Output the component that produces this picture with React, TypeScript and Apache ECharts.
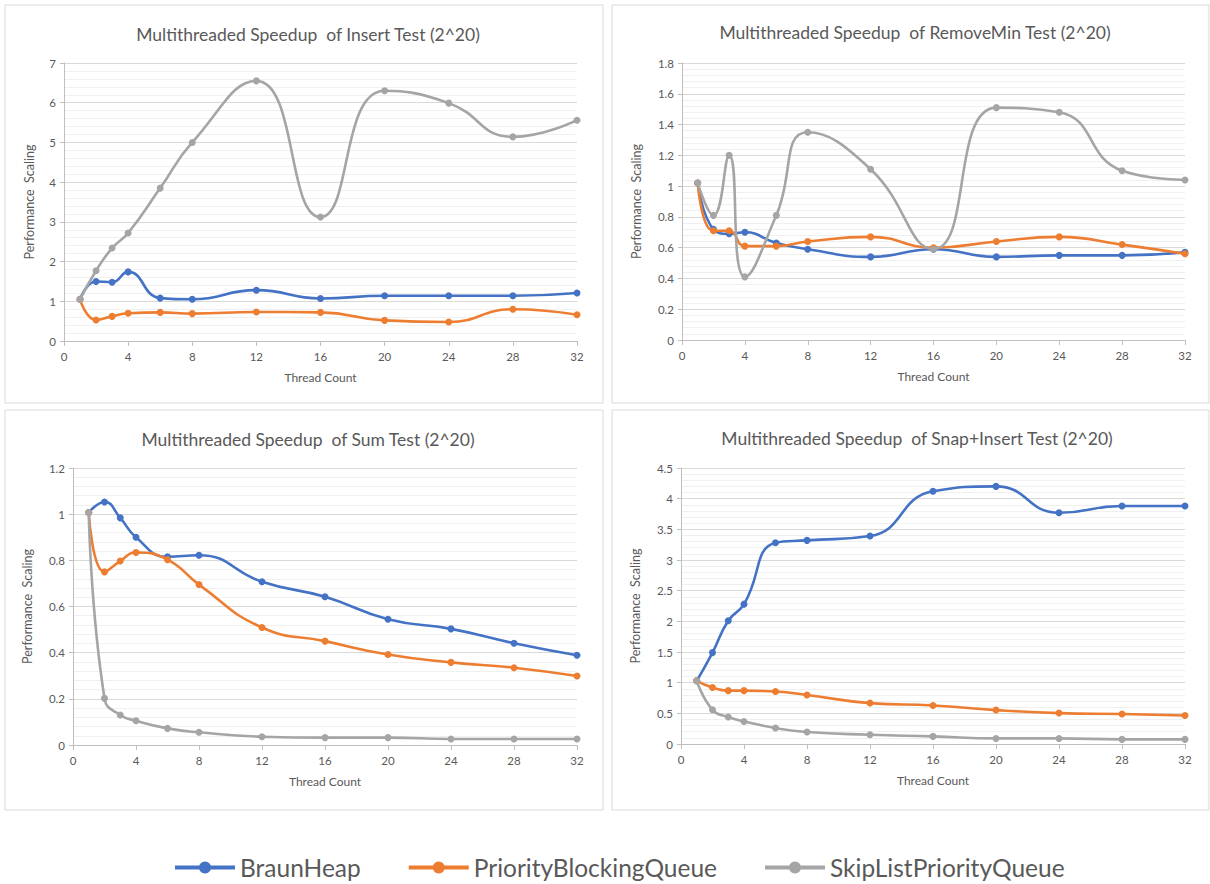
import React, { useEffect, useRef } from "react";
import * as echarts from "echarts";

const threads = [1, 2, 3, 4, 6, 8, 12, 16, 20, 24, 28, 32];
const seriesNames = ["BraunHeap", "PriorityBlockingQueue", "SkipListPriorityQueue"];
const colors = ["#4472C4", "#ED7D31", "#A5A5A5"];

const insertBraun = [1.05, 1.5, 1.48, 1.74, 1.08, 1.05, 1.28, 1.07, 1.14, 1.14, 1.14, 1.21];
const insertPBQ = [1.05, 0.53, 0.62, 0.7, 0.72, 0.69, 0.73, 0.72, 0.52, 0.48, 0.8, 0.66];
const insertSkip = [1.05, 1.77, 2.34, 2.72, 3.85, 5.0, 6.55, 3.12, 6.3, 5.99, 5.14, 5.56];

const removeBraun = [1.02, 0.72, 0.69, 0.7, 0.63, 0.59, 0.54, 0.59, 0.54, 0.55, 0.55, 0.57];
const removePBQ = [1.02, 0.71, 0.71, 0.61, 0.61, 0.64, 0.67, 0.6, 0.64, 0.67, 0.62, 0.56];
const removeSkip = [1.02, 0.81, 1.2, 0.41, 0.81, 1.35, 1.11, 0.59, 1.51, 1.48, 1.1, 1.04];

const sumBraun = [1.007, 1.053, 0.984, 0.9, 0.815, 0.822, 0.707, 0.642, 0.545, 0.503, 0.441, 0.389];
const sumPBQ = [1.007, 0.75, 0.797, 0.834, 0.803, 0.695, 0.509, 0.45, 0.392, 0.358, 0.335, 0.299];
const sumSkip = [1.007, 0.202, 0.13, 0.105, 0.072, 0.055, 0.036, 0.032, 0.032, 0.026, 0.026, 0.026];

const snapBraun = [1.03, 1.49, 2.01, 2.28, 3.28, 3.32, 3.39, 4.12, 4.2, 3.77, 3.88, 3.88];
const snapPBQ = [1.03, 0.92, 0.87, 0.87, 0.855, 0.8, 0.667, 0.628, 0.553, 0.504, 0.488, 0.465];
const snapSkip = [1.03, 0.558, 0.44, 0.368, 0.26, 0.195, 0.15, 0.124, 0.091, 0.091, 0.075, 0.075];

const panelTitles = [
  "Multithreaded Speedup  of Insert Test (2^20)",
  "Multithreaded Speedup  of RemoveMin Test (2^20)",
  "Multithreaded Speedup  of Sum Test (2^20)",
  "Multithreaded Speedup  of Snap+Insert Test (2^20)",
];
const yMax = [7, 1.8, 1.2, 4.5];
const yInterval = [1, 0.2, 0.2, 0.5];
const panelData = [
  [insertBraun, insertPBQ, insertSkip],
  [removeBraun, removePBQ, removeSkip],
  [sumBraun, sumPBQ, sumSkip],
  [snapBraun, snapPBQ, snapSkip],
];

const FONT = "Lato, 'Open Sans', sans-serif";
const TEXT = "#595959";

// layout
const grids = [
  { left: 64, top: 63, width: 513, height: 278 },
  { left: 682, top: 63, width: 503, height: 277 },
  { left: 73, top: 468, width: 504, height: 277 },
  { left: 681, top: 468, width: 504, height: 276 },
];
const yNameGap = [28, 39, 39, 39];
const titlePos = [
  { x: 303, y: 20 },
  { x: 910, y: 18 },
  { x: 303, y: 425 },
  { x: 912, y: 424 },
];
const frames = [
  { x: 5, y: 5, w: 598, h: 398 },
  { x: 612, y: 5, w: 597, h: 398 },
  { x: 5, y: 410, w: 598, h: 400 },
  { x: 612, y: 410, w: 597, h: 400 },
];

export default function App() {
  const ref = useRef<HTMLDivElement>(null);
  useEffect(() => {
    if (!ref.current) return;
    const chart = echarts.init(ref.current, undefined, { renderer: "svg" });
    const series: any[] = [];
    panelData.forEach((sets, p) => {
      sets.forEach((vals, s) => {
        series.push({
          type: "line",
          name: seriesNames[s],
          xAxisIndex: p,
          yAxisIndex: p,
          data: threads.map((t, i) => [t, vals[i]]),
          smooth: 0.5,
          symbol: "circle",
          symbolSize: 7,
          color: colors[s],
          lineStyle: { width: 2.6, color: colors[s] },
          itemStyle: { color: colors[s] },
          z: 2 + s,
        });
      });
    });
    const option: any = {
      animation: false,
      backgroundColor: "#ffffff",
      textStyle: { fontFamily: FONT },
      title: panelTitles.map((t, i) => ({
        text: t,
        left: titlePos[i].x,
        top: titlePos[i].y,
        textAlign: "center",
        textStyle: { fontFamily: FONT, fontSize: 17.5, fontWeight: "normal", color: TEXT },
      })),
      legend: {
        data: seriesNames,
        left: 168,
        top: 850,
        itemWidth: 60,
        itemHeight: 15,
        itemGap: 46,
        textStyle: { fontFamily: FONT, fontSize: 24.5, color: TEXT },
        lineStyle: { width: 4 },
      },
      grid: grids.map((g) => ({ ...g, containLabel: false, outerBoundsMode: "none" })),
      xAxis: grids.map((g, i) => ({
        type: "value",
        gridIndex: i,
        min: 0,
        max: 32,
        interval: 4,
        name: "Thread Count",
        nameLocation: "middle",
        nameGap: 30,
        nameTextStyle: { fontFamily: FONT, fontSize: 12, color: TEXT },
        axisLine: { show: true, lineStyle: { color: "#BFBFBF", width: 1 } },
        axisTick: { show: true, length: 5, lineStyle: { color: "#BFBFBF" } },
        axisLabel: { fontFamily: FONT, fontSize: 11.5, color: TEXT, margin: 9 },
        splitLine: { show: false },
      })),
      yAxis: grids.map((g, i) => ({
        type: "value",
        gridIndex: i,
        min: 0,
        max: yMax[i],
        interval: yInterval[i],
        name: "Performance  Scaling",
        nameLocation: "middle",
        nameGap: yNameGap[i],
        nameTextStyle: { fontFamily: FONT, fontSize: 12.5, color: TEXT },
        axisLine: { show: true, lineStyle: { color: "#BFBFBF", width: 1 } },
        axisTick: { show: true, length: 4, lineStyle: { color: "#BFBFBF" } },
        axisLabel: { fontFamily: FONT, fontSize: 11.5, color: TEXT, margin: 8 },
        splitLine: { show: true, lineStyle: { color: "#D9D9D9", width: 1 } },
        minorTick: { show: false, splitNumber: 5 },
        minorSplitLine: { show: true, lineStyle: { color: "#F0F0F0", width: 1 } },
      })),
      graphic: frames.map((f) => ({
        type: "rect",
        shape: { x: f.x, y: f.y, width: f.w, height: f.h },
        style: { fill: "none", stroke: "#D9D9D9", lineWidth: 1 },
        silent: true,
        z: -10,
      })),
      series,
    };
    chart.setOption(option);
    return () => chart.dispose();
  }, []);
  return (
    <div
      ref={ref}
      style={{ position: "absolute", left: 0, top: 0, width: 1210, height: 884 }}
    />
  );
}
